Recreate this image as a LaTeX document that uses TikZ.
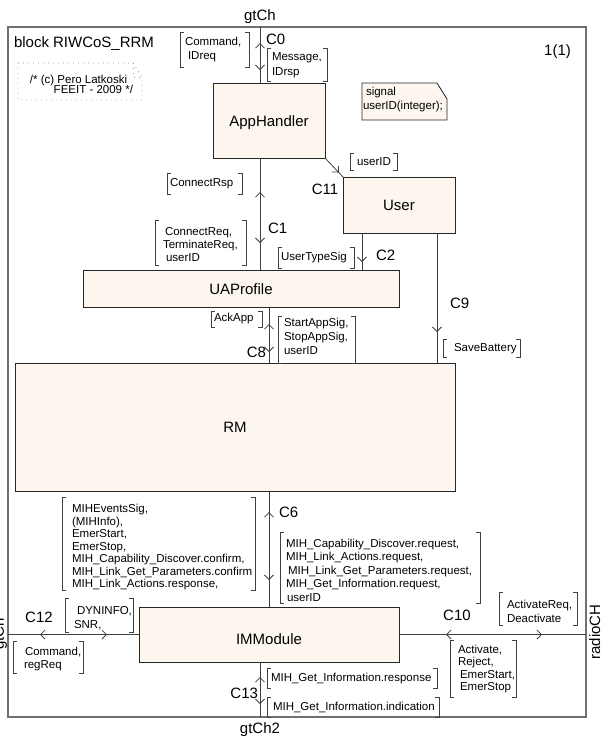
\documentclass[tikz,border=0pt]{standalone}
\usepackage{fontspec}
\setmainfont{Liberation Sans}
\usetikzlibrary{arrows.meta,decorations.markings}

\definecolor{boxfill}{RGB}{253,246,238}
\definecolor{lineclr}{RGB}{64,64,64}
\definecolor{frameclr}{RGB}{112,112,112}
\definecolor{dotclr}{RGB}{150,150,150}

\tikzset{
  >={Straight Barb[length=4.5pt,width=9pt]},
  blk/.style={draw=black!85, line width=0.8pt, fill=boxfill, inner sep=0pt, outer sep=0pt,
    anchor=north west, text height=11pt, text depth=0pt, font=\fontsize{15}{17}\selectfont},
  conn/.style={draw=lineclr, line width=0.8pt},
  brk/.style={draw=lineclr, line width=0.7pt},
  sigtext/.style={inner sep=0pt, outer sep=0pt, align=left, font=\fontsize{11.5}{13.5}\selectfont},
  chlabel/.style={inner sep=0pt, outer sep=0pt, font=\fontsize{15}{17}\selectfont},
  fwd/.style={postaction={decorate, decoration={markings, mark=at position #1pt with {\arrow{>}}}}},
  bwd/.style={postaction={decorate, decoration={markings, mark=at position #1pt with {\arrowreversed{>}}}}},
}

% a pair of square brackets round a signal list
\newcommand\sigbrackets[4]{%
  \draw[brk] (#1+4,#2) -- (#1,#2) -- (#1,#4) -- (#1+4,#4);
  \draw[brk] (#3-4,#2) -- (#3,#2) -- (#3,#4) -- (#3-4,#4);}
% [options]{name}{x1}{y1}{x2}{y2}{text x}{text y}{signals}
\newcommand\siglist[9][]{%
  \sigbrackets{#3}{#4}{#5}{#6}
  \node[sigtext,anchor=west,#1] (#2) at (#7,#8) {#9};}

\begin{document}
\begin{tikzpicture}[x=1pt,y=-1pt]
\fill[white] (0,0) rectangle (603,740);
\useasboundingbox (0,0) rectangle (603,740);

% block frame
\node[draw=frameclr, line width=1.3pt, inner sep=0pt, outer sep=0pt, anchor=north west,
      minimum width=578pt, minimum height=690pt] (frame) at (8,27) {};
\node[chlabel, anchor=base west] (title) at (14,47) {block RIWCoS\_RRM};
\node[chlabel, anchor=base] (page) at (557.5,55) {1(1)};

% comment
\draw[dotclr, line width=0.8pt, dash pattern=on 0.8pt off 4.2pt]
  (18,63) -- (133,63) -- (142,77) -- (142,100) -- (18,100) -- cycle;
\draw[dotclr, line width=0.8pt, dash pattern=on 0.8pt off 4.2pt]
  (133,63) -- (133,77) -- (142,77);
\node[sigtext, anchor=base west] (cmt1) at (30,83) {/* (c) Pero Latkoski};
\node[sigtext, anchor=base east] (cmt2) at (133,93) {FEEIT - 2009 */};

% text symbol with the signal declaration
\filldraw[draw=black!85, fill=boxfill, line width=0.8pt]
  (362,83) -- (437,83) -- (447,99) -- (447,120) -- (362,120) -- cycle;
\node[sigtext, anchor=base west] (note1) at (366,95) {signal};
\node[sigtext, anchor=base west] (note2) at (363,109) {userID(integer);};

% processes
\node[blk, minimum width=112pt, minimum height=75pt] (app) at (213,83) {AppHandler};
\node[blk, minimum width=112pt, minimum height=56pt] (user) at (343,177) {User};
\node[blk, minimum width=316pt, minimum height=37pt] (uap) at (83,270) {UAProfile};
\node[blk, minimum width=440pt, minimum height=128pt] (rm) at (15,363) {RM};
\node[blk, minimum width=260pt, minimum height=55pt, text height=19pt] (imm) at (139,607) {IMModule};

% channel end points
\coordinate (gtch) at (260,27);
\coordinate (gtch2) at (260,717);
\coordinate (c2x) at (362,0);
\coordinate (c9x) at (437,0);
\coordinate (c8x) at (269,0);

% channels
\draw[conn, bwd=16, fwd=43] (gtch) -- (gtch |- app.north);
\draw[conn, bwd=34, fwd=85] (gtch |- app.south) -- (gtch |- uap.north);
\draw[conn, fwd=20] (app.south east) -- (user.north west);
\draw[conn, fwd=29] (c2x |- user.south) -- (c2x |- uap.north);
\draw[conn, fwd=99] (c9x |- user.south) -- (c9x |- rm.north);
\draw[conn, bwd=17, fwd=45] (c8x |- uap.south) -- (c8x |- rm.north);
\draw[conn, bwd=21, fwd=89] (c8x |- rm.south) -- (c8x |- imm.north);
\draw[conn, bwd=32, fwd=99] (imm.west) -- (imm.west -| frame.west);
\draw[conn, bwd=47, fwd=143] (imm.east) -- (imm.east -| frame.east);
\draw[conn, bwd=15, fwd=42] (gtch2 |- imm.south) -- (gtch2);

% channel and gate names
\node[chlabel, anchor=base] (g-top) at (260,20) {gtCh};
\node[chlabel, anchor=base] (g-bot) at (260,733) {gtCh2};
\node[chlabel, anchor=base, rotate=90] (g-left) at (4,634) {gtCh};
\node[chlabel, anchor=base, rotate=90] (g-right) at (600,632) {radioCH};
\node[chlabel, anchor=base west] (l-c0) at (266,44) {C0};
\node[chlabel, anchor=base west] (l-c1) at (268,233) {C1};
\node[chlabel, anchor=base] (l-c11) at (325,194.5) {C11};
\node[chlabel, anchor=base west] (l-c2) at (376,260) {C2};
\node[chlabel, anchor=base west] (l-c9) at (450,308) {C9};
\node[chlabel, anchor=base east] (l-c8) at (266,357) {C8};
\node[chlabel, anchor=base west] (l-c6) at (279,517) {C6};
\node[chlabel, anchor=base] (l-c12) at (39,622) {C12};
\node[chlabel, anchor=base] (l-c10) at (457,620) {C10};
\node[chlabel, anchor=base east] (l-c13) at (258,698) {C13};

% signal lists
\siglist[font=\fontsize{11.5}{14}\selectfont]{s-cmd}{180}{32}{249}{67}{185}{49.5}{Command,\\\hspace{3pt}IDreq}
\siglist[font=\fontsize{11.5}{15}\selectfont]{s-msg}{267}{48}{327}{81}{272}{65.5}{Message,\\IDrsp}
\siglist{s-crsp}{167}{173}{242}{194}{170}{184}{ConnectRsp}
\siglist[font=\fontsize{11.5}{13}\selectfont]{s-creq}{155}{220}{246}{265}{163}{245}{\hspace{2pt}ConnectReq,\\TerminateReq,\\\hspace{3pt}userID}
\siglist{s-uid}{350}{153}{397}{170}{357}{162}{userID}
\siglist{s-utype}{278}{247}{354}{268}{281}{258}{UserTypeSig}
\siglist{s-ack}{211}{311}{262}{327}{214}{319}{AckApp}
\siglist[font=\fontsize{11.5}{14}\selectfont]{s-start}{278}{316}{355}{363}{284}{336}{StartAppSig,\\StopAppSig,\\userID}
\siglist{s-save}{443}{339}{520}{357}{454}{349}{SaveBattery}
\siglist[font=\fontsize{11.5}{12.5}\selectfont]{s-events}{62}{497}{255}{590}{72}{547.5}{MIHEventsSig,\\(MIHInfo),\\EmerStart,\\EmerStop,\\MIH\_Capability\_Discover.confirm,\\MIH\_Link\_Get\_Parameters.confirm\\MIH\_Link\_Actions.response,}
\siglist{s-req}{280}{532}{480}{603}{286}{570}{MIH\_Capability\_Discover.request,\\MIH\_Link\_Actions.request,\\\hspace{2pt}MIH\_Link\_Get\_Parameters.request,\\MIH\_Get\_Information.request,\\\hspace{1pt}userID}
\siglist[font=\fontsize{11.5}{14}\selectfont]{s-dyn}{65}{598}{133}{632}{74}{618}{\hspace{3pt}DYNINFO,\\SNR,}
\siglist[font=\fontsize{11.5}{13}\selectfont]{s-cmdreg}{13}{641}{83}{673}{24}{659}{\hspace{1pt}Command,\\regReq}
\siglist{s-actreq}{499}{592}{577}{625}{507}{611.5}{ActivateReq,\\Deactivate}
\siglist[font=\fontsize{11.5}{12.5}\selectfont]{s-act}{450}{640}{516}{697}{458}{669}{Activate,\\Reject,\\\hspace{2pt}EmerStart,\\\hspace{2pt}EmerStop}
\siglist{s-resp}{267}{668}{437}{688}{271}{679}{MIH\_Get\_Information.response}
\siglist{s-ind}{267}{697}{439}{717}{273}{707}{MIH\_Get\_Information.indication}
\end{tikzpicture}
\end{document}
